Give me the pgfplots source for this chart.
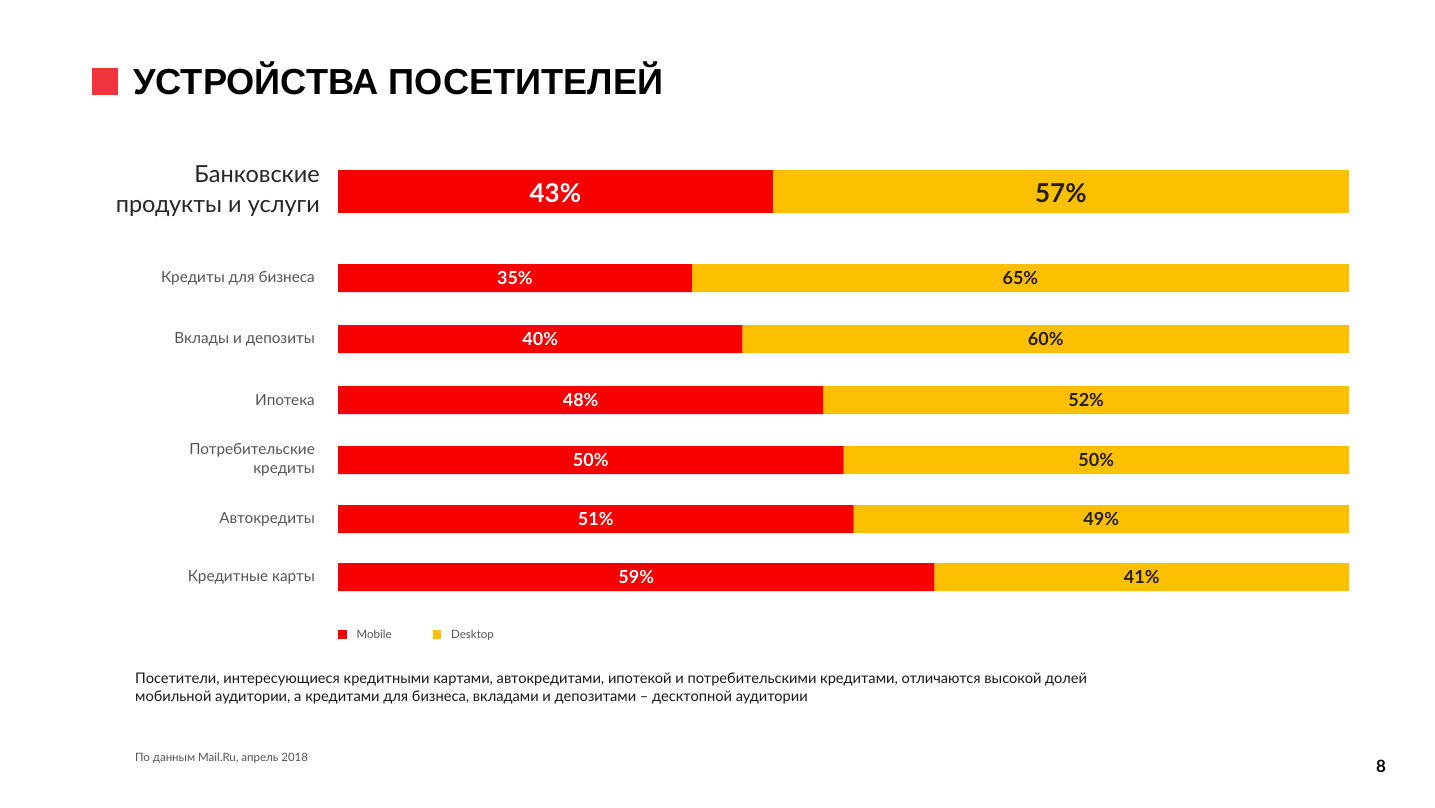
\documentclass[border=0pt]{standalone}
\usepackage{fontspec}
\setmainfont{Lato}
\newfontfamily\titlefont{Liberation Sans}
\usepackage{pgfplots}
\pgfplotsset{compat=1.18}
\definecolor{mobred}{RGB}{246,0,0}
\definecolor{deskyel}{RGB}{252,192,0}
\definecolor{titlered}{RGB}{240,52,60}
\definecolor{labgray}{RGB}{85,85,85}
\definecolor{pctdark}{RGB}{35,30,25}
\begin{document}
\begin{tikzpicture}
\fill[white] (0pt,0pt) rectangle (1435pt,-808pt);
% title
\fill[titlered] (92pt,-68pt) rectangle (118pt,-95pt);
\node[anchor=base west, inner sep=0pt, font=\titlefont\bfseries\fontsize{36.2}{42}\selectfont] at (133pt,-94pt) {УСТРОЙСТВА ПОСЕТИТЕЛЕЙ};
% big bar
\begin{axis}[
  at={(338pt,-600pt)}, anchor=south west,
  scale only axis, width=1011pt, height=440pt,
  xmin=0, xmax=100, ymin=160, ymax=600, y dir=reverse,
  axis line style={draw=none}, major tick style={draw=none},
  xtick=\empty, ytick={191.5},
  yticklabels={Банковские\\продукты и услуги},
  yticklabel style={align=right, inner sep=0pt, xshift=-18pt, font=\fontsize{23.5}{30}\selectfont, text=black!85},
  xbar stacked, bar width=43,
  point meta=explicit,
  /pgf/number format/assume math mode=true,
  nodes near coords={\pgfmathprintnumber{\pgfplotspointmeta}\%},
  every node near coord/.append style={font=\bfseries\fontsize{26}{28}\selectfont, yshift=-2pt},
  clip=false,
]
\addplot[fill=mobred, draw=none, nodes near coords style={text=white}] coordinates {(43,191.5)[43]};
\addplot[fill=deskyel, draw=none, nodes near coords style={text=pctdark}] coordinates {(57,191.5)[57]};
\end{axis}
% small bars
\begin{axis}[
  at={(338pt,-600pt)}, anchor=south west,
  scale only axis, width=1011pt, height=440pt,
  xmin=0, xmax=100, ymin=160, ymax=600, y dir=reverse,
  axis line style={draw=none}, major tick style={draw=none},
  xtick=\empty, ytick={278,339,400,460,519,577},
  yticklabels={Кредиты для бизнеса, Вклады и депозиты, Ипотека, Потребительские\\кредиты, Автокредиты, Кредитные карты},
  yticklabel style={align=right, inner sep=0pt, xshift=-23pt, font=\fontsize{15.3}{19}\selectfont, text=labgray},
  xbar stacked, bar width=28,
  point meta=explicit,
  /pgf/number format/assume math mode=true,
  nodes near coords={\pgfmathprintnumber{\pgfplotspointmeta}\%},
  every node near coord/.append style={font=\bfseries\fontsize{18}{20}\selectfont},
  clip=false,
  legend style={at={(0,-0.0795)}, anchor=west, draw=none, fill=none, inner sep=0pt,
    font=\fontsize{11.5}{13}\selectfont, text=labgray, legend columns=2,
    /tikz/every odd column/.append style={column sep=8pt},
    /tikz/every even column/.append style={column sep=39pt},
    legend cell align=left},
  legend image code/.code={\fill[#1] (0pt,-4.5pt) rectangle (8.5pt,4.5pt);},
]
\addplot[fill=mobred, draw=none, nodes near coords style={text=white}] coordinates {
 (35,278)[35] (40,339)[40] (48,400)[48] (50,460)[50] (51,519)[51] (59,577)[59]};
\addplot[fill=deskyel, draw=none, nodes near coords style={text=pctdark}] coordinates {
 (65,278)[65] (60,339)[60] (52,400)[52] (50,460)[50] (49,519)[49] (41,577)[41]};
\legend{Mobile, Desktop}
\end{axis}
% notes
\node[anchor=base west, inner sep=0pt, font=\fontsize{14.65}{18}\selectfont, text=black!90] at (135pt,-683pt) {Посетители, интересующиеся кредитными картами, автокредитами, ипотекой и потребительскими кредитами, отличаются высокой долей};
\node[anchor=base west, inner sep=0pt, font=\fontsize{14.65}{18}\selectfont, text=black!90] at (135pt,-701pt) {мобильной аудитории, а кредитами для бизнеса, вкладами и депозитами – десктопной аудитории};
\node[anchor=base west, inner sep=0pt, font=\fontsize{11.5}{14}\selectfont, text=labgray] at (135pt,-761pt) {По данным Mail.Ru, апрель 2018};
\node[anchor=base west, inner sep=0pt, font=\bfseries\fontsize{17}{20}\selectfont] at (1376pt,-772pt) {8};
\end{tikzpicture}
\end{document}
